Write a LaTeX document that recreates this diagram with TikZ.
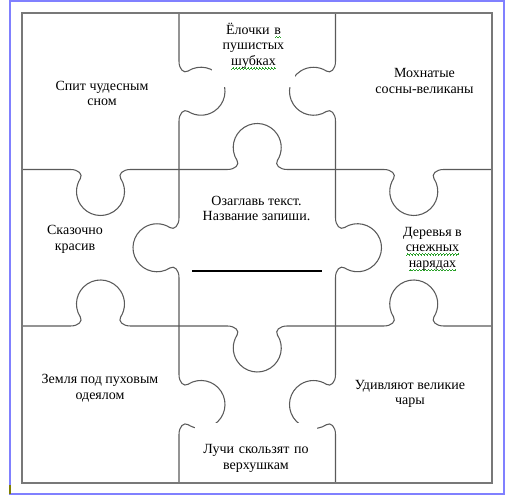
\documentclass[tikz,border=0pt]{standalone}
\usepackage{fontspec}
\setmainfont{Liberation Serif}
\newfontfamily{\puzzlefont}{Liberation Serif}
\usetikzlibrary{positioning}
\definecolor{cFrame}{RGB}{128, 128, 255}
\definecolor{cMark}{RGB}{128, 128, 0}
\definecolor{cBorder}{RGB}{120, 120, 120}
\definecolor{cSeam}{RGB}{90, 90, 90}
\definecolor{cSpell}{RGB}{40, 160, 40}
\newsavebox{\spellbox}
\newcommand{\spellwave}{\hbox{\rule[-2.9pt]{0.55pt}{0.55pt}\rule[-2.4pt]{0.55pt}{0.55pt}%
    \rule[-1.9pt]{0.55pt}{0.55pt}\rule[-2.4pt]{0.55pt}{0.55pt}}}
\newcommand{\spellmark}[1]{\leavevmode\sbox{\spellbox}{#1}%
    \rlap{\textcolor{cSpell}{\hbox to \wd\spellbox{\xleaders\spellwave\hfill}}}\usebox{\spellbox}}

\tikzset{
    pics/knob/.style={code={
        \draw[seam] (-78.5,0) -- (-30,0)
            .. controls (-22,0) and (-17.5,4.8) .. (-20.2,9)
            arc[start angle=212.8, end angle=-32.8, radius=24]
            .. controls (17.5,4.8) and (22,0) .. (30,0) -- (78.5,0);
    }}
}

\begin{document}
\begin{tikzpicture}[
    x=0.75pt, y=0.75pt,
    font=\puzzlefont\fontsize{10.5}{11.7}\selectfont,
    frame/.style={draw=cFrame, line width=1.5pt},
    border/.style={draw=cBorder, line width=1.1pt},
    seam/.style={draw=cSeam, line width=0.8pt},
    txt/.style={align=center, inner sep=0pt},
    cover/.style={txt, fill=white, anchor=north},
    answer/.style={draw=black, line width=0.9pt}
]
\useasboundingbox (0,0) rectangle (512,496);

% Outer frame
\draw[frame] (10,2) rectangle (504,495);
\draw[line width=1.5pt, cMark] (10,2) -- (10,11);

% Vertical seams
\pic[rotate=-90] at (179,404.75)   {knob};
\pic[rotate=90]  at (179,248.25)   {knob};
\pic[rotate=-90] at (179,91.5)     {knob};
\pic[rotate=90]  at (335.5,404.75) {knob};
\pic[rotate=-90] at (335.5,248.25) {knob};
\pic[rotate=90]  at (335.5,91.5)   {knob};

% Horizontal seams
\pic[rotate=180] at (100.5,326.5)  {knob};
\pic             at (257.25,326.5) {knob};
\pic[rotate=180] at (413.75,326.5) {knob};
\pic             at (100.5,170)    {knob};
\pic[rotate=180] at (257.25,170)   {knob};
\pic             at (413.75,170)   {knob};

% Row 1
\node[txt] (sleep) at (102,402.5) {Спит чудесным\\сном};
\node[cover, text width=62.25pt, text height=14.25pt, text depth=39.75pt] (firs) at (253.5,481)
    {Ёлочки \spellmark{в}\\пушистых\\\spellmark{шубках}};
\node[txt] (pines) at (424.5,415) {Мохнатые\\сосны-великаны};

% Row 2
\node[txt] (fairy) at (75,256.5) {Сказочно\\красив};
\node[txt] (title) at (256.5,287.7) {Озаглавь текст.\\Название запиши.};
\node[txt] (trees) at (432.5,247) {Деревья в\\\spellmark{снежных}\\\spellmark{нарядах}};

\coordinate (lineL) at (192,225);
\coordinate (lineR) at (322,225);
\draw[answer] (lineL) -- (lineR);

% Row 3
\node[txt] (earth) at (100,107.5) {Земля под пуховым\\одеялом};
\node[cover, text width=91.5pt, text height=22.9pt, text depth=20.6pt] (rays) at (256,73)
    {Лучи скользят по\\верхушкам};
\node[txt] (charm) at (410,102) {Удивляют великие\\чары};

% Board outline
\draw[border] (22,13) rectangle (492,483);

\end{tikzpicture}
\end{document}
